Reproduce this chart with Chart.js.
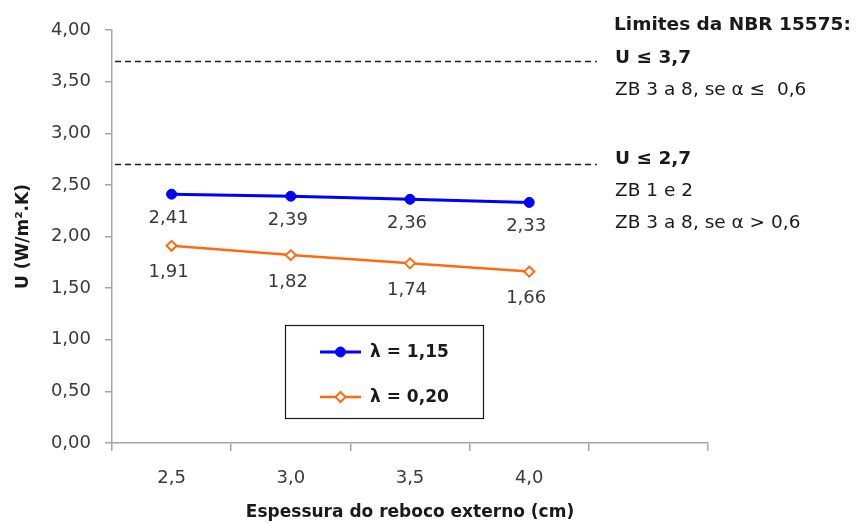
<!DOCTYPE html>
<html>
<head>
<meta charset="utf-8">
<script src="https://cdn.jsdelivr.net/npm/chart.js@4.4.1/dist/chart.umd.min.js"></script>
<style>
  html, body { margin: 0; padding: 0; background: #ffffff; }
  #wrap { width: 859px; height: 523px; }
</style>
</head>
<body>
<div id="wrap"><canvas id="chart" width="859" height="523"></canvas></div>
<script>
// Espessura do reboco externo (cm); the last slot is left empty on purpose
const categories = ['2,5', '3,0', '3,5', '4,0', ''];
// Transmitância térmica U (W/m².K) por condutividade da argamassa
const uLambda115 = [2.41, 2.39, 2.36, 2.33, null];
const uLambda020 = [1.91, 1.82, 1.74, 1.66, null];
const seriesNames = ['λ = 1,15', 'λ = 0,20'];
// Limites da NBR 15575
const limitValues = [3.7, 2.7];
const limitNotes = [
  { head: 'U ≤ 3,7', lines: ['ZB 3 a 8, se α ≤  0,6'] },
  { head: 'U ≤ 2,7', lines: ['ZB 1 e 2', 'ZB 3 a 8, se α > 0,6'] }
];
const notesTitle = 'Limites da NBR 15575:';

const FONT = "'DejaVu Sans', 'Liberation Sans', sans-serif";
const AXIS_GRAY = '#a6a6a6';
const TEXT = '#3a3a3a';

const fmt = (v, d) => v.toFixed(d).replace('.', ',');

// Dashed reference lines for the standard's limits
const limitLines = {
  id: 'limitLines',
  beforeDatasetsDraw(chart) {
    const { ctx, chartArea } = chart;
    const x = chart.scales.x, y = chart.scales.y;
    const end = (x.getPixelForValue(3) + x.getPixelForValue(4)) / 2 + 8;
    ctx.save();
    ctx.strokeStyle = '#1f1f1f';
    ctx.lineWidth = 1.3;
    ctx.setLineDash([6, 4]);
    limitValues.forEach(v => {
      const py = Math.round(y.getPixelForValue(v)) + 0.5;
      ctx.beginPath();
      ctx.moveTo(chartArea.left + 3, py);
      ctx.lineTo(end, py);
      ctx.stroke();
    });
    ctx.restore();
  }
};

// Value labels under each point
const pointLabels = {
  id: 'pointLabels',
  afterDatasetsDraw(chart) {
    const { ctx } = chart;
    const offsets = [24, 27];
    ctx.save();
    ctx.font = `18px ${FONT}`;
    ctx.fillStyle = TEXT;
    ctx.textAlign = 'center';
    ctx.textBaseline = 'middle';
    chart.data.datasets.forEach((ds, i) => {
      chart.getDatasetMeta(i).data.forEach((pt, j) => {
        const v = ds.data[j];
        if (v == null) return;
        ctx.fillText(fmt(v, 2), pt.x - 3, pt.y + offsets[i]);
      });
    });
    ctx.restore();
  }
};

// Boxed legend inside the plot
const boxLegend = {
  id: 'boxLegend',
  afterDraw(chart) {
    const { ctx, chartArea } = chart;
    const w = chartArea.right - chartArea.left;
    const left = chartArea.left + Math.round(w * 0.29);
    const top = chartArea.top + 295;
    const bw = 198, bh = 93;
    ctx.save();
    ctx.strokeStyle = '#1a1a1a';
    ctx.lineWidth = 1.2;
    ctx.strokeRect(left + 0.5, top + 0.5, bw, bh);
    chart.data.datasets.forEach((ds, i) => {
      const cy = top + 27 + i * 45;
      const x0 = left + 35, x1 = left + 76;
      const cx = (x0 + x1) / 2;
      ctx.strokeStyle = ds.borderColor;
      ctx.lineWidth = ds.borderWidth;
      ctx.setLineDash([]);
      ctx.beginPath();
      ctx.moveTo(x0, cy);
      ctx.lineTo(x1, cy);
      ctx.stroke();
      ctx.fillStyle = ds.pointBackgroundColor;
      ctx.strokeStyle = ds.pointBorderColor;
      ctx.lineWidth = ds.pointBorderWidth;
      ctx.beginPath();
      const r = ds.pointRadius;
      if (ds.pointStyle === 'circle') {
        ctx.arc(cx, cy, r, 0, Math.PI * 2);
      } else {
        ctx.moveTo(cx, cy - r); ctx.lineTo(cx + r, cy); ctx.lineTo(cx, cy + r); ctx.lineTo(cx - r, cy); ctx.closePath();
      }
      ctx.fill();
      ctx.stroke();
      ctx.fillStyle = '#1a1a1a';
      ctx.font = `bold 17px ${FONT}`;
      ctx.textAlign = 'left';
      ctx.textBaseline = 'middle';
      ctx.fillText(seriesNames[i], x1 + 9, cy + 1);
    });
    ctx.restore();
  }
};

// Notes about the limits, to the right of the curves
const limitText = {
  id: 'limitText',
  afterDraw(chart) {
    const { ctx } = chart;
    const x = 614;
    ctx.save();
    ctx.fillStyle = '#1a1a1a';
    ctx.textAlign = 'left';
    ctx.textBaseline = 'middle';
    ctx.font = `bold 18.5px ${FONT}`;
    ctx.fillText(notesTitle, x, 25);
    const heads = [58, 159];
    limitNotes.forEach((n, i) => {
      ctx.font = `bold 18.5px ${FONT}`;
      ctx.fillText(n.head, x + 1, heads[i]);
      ctx.font = `18.5px ${FONT}`;
      n.lines.forEach((t, k) => ctx.fillText(t, x + 1, heads[i] + 32 + k * 32));
    });
    ctx.restore();
  }
};

new Chart(document.getElementById('chart'), {
  type: 'line',
  data: {
    labels: categories,
    datasets: [
      {
        label: seriesNames[0],
        data: uLambda115,
        borderColor: '#0000ff',
        backgroundColor: '#0000ff',
        borderWidth: 3,
        pointStyle: 'circle',
        pointRadius: 5,
        pointBackgroundColor: '#0000ff',
        pointBorderColor: '#0000ff',
        pointBorderWidth: 1
      },
      {
        label: seriesNames[1],
        data: uLambda020,
        borderColor: '#ff6a10',
        backgroundColor: '#ffffff',
        borderWidth: 2.5,
        pointStyle: 'rectRot',
        pointRadius: 5,
        pointBackgroundColor: '#ffffff',
        pointBorderColor: '#ff6a10',
        pointBorderWidth: 2
      }
    ]
  },
  options: {
    responsive: false,
    animation: false,
    devicePixelRatio: 1,
    layout: { padding: { left: 0, top: 30, right: 151, bottom: 0 } },
    plugins: {
      legend: { display: false },
      tooltip: { enabled: false }
    },
    scales: {
      x: {
        type: 'category',
        offset: true,
        grid: { offset: true, drawOnChartArea: false, tickLength: 8, color: AXIS_GRAY, lineWidth: 1.5 },
        border: { color: AXIS_GRAY, width: 1.5 },
        ticks: { color: TEXT, font: { family: FONT, size: 18 }, padding: 17, maxRotation: 0, autoSkip: false },
        title: {
          display: true,
          text: 'Espessura do reboco externo (cm)',
          color: '#1a1a1a',
          font: { family: FONT, size: 17, weight: 'bold' },
          padding: { top: 0, bottom: 0 }
        },
        afterFit(scale) { scale.height = 80; }
      },
      y: {
        min: 0,
        max: 4,
        grid: { drawOnChartArea: false, tickLength: 7, color: AXIS_GRAY, lineWidth: 1.5 },
        border: { color: AXIS_GRAY, width: 1.5 },
        ticks: {
          stepSize: 0.5,
          color: TEXT,
          font: { family: FONT, size: 18 },
          padding: 14,
          callback: v => fmt(v, 2)
        },
        title: {
          display: true,
          text: 'U (W/m².K)',
          color: '#1a1a1a',
          font: { family: FONT, size: 17, weight: 'bold' },
          padding: { top: 13, bottom: 0 }
        },
        afterFit(scale) { scale.width = 112; }
      }
    }
  },
  plugins: [limitLines, pointLabels, boxLegend, limitText]
});
</script>
</body>
</html>
